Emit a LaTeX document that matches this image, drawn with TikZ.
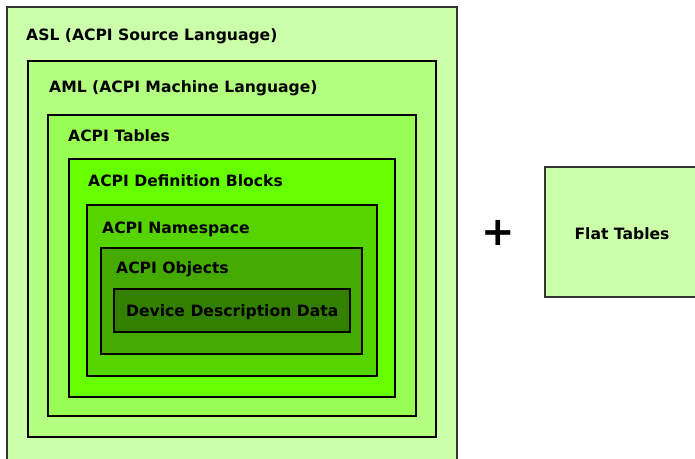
\documentclass[tikz,border=0pt]{standalone}
\usepackage{fontspec}
\setmainfont{DejaVu Sans}
\definecolor{cASL}{HTML}{CCFFAA}
\definecolor{cAML}{HTML}{B3FF80}
\definecolor{cTab}{HTML}{99FF55}
\definecolor{cDef}{HTML}{66FF00}
\definecolor{cNs}{HTML}{55D400}
\definecolor{cObj}{HTML}{44AA00}
\definecolor{cDDD}{HTML}{337F00}
\definecolor{edgegray}{HTML}{333333}
\tikzset{
  lbl/.style={anchor=base west, inner sep=0pt, font=\bfseries\fontsize{15.6}{17}\selectfont},
  layer/.style={draw=black, line width=#1},
}
\begin{document}
\begin{tikzpicture}[x=1pt,y=-1pt]
\useasboundingbox (0,0) rectangle (695,458);
\clip (0,0) rectangle (695,458);
\fill[white] (0,0) rectangle (695,458);
\draw[fill=cASL, draw=edgegray, line width=1.5pt] (7,7) rectangle (457,470);
\draw[fill=cAML, layer=2pt] (28,61) rectangle (436,437);
\draw[fill=cTab, layer=2.5pt] (48,115) rectangle (416,416);
\draw[fill=cDef, layer=2pt] (69,159) rectangle (395,397);
\draw[fill=cNs, layer=1.5pt] (87,205) rectangle (377,376);
\draw[fill=cObj, layer=1.5pt] (101,248) rectangle (362,354);
\draw[fill=cDDD, layer=1.2pt] (114,289) rectangle (350,332);
\node[lbl] (asl) at (26,40) {ASL (ACPI Source Language)};
\node[lbl] (aml) at (49,92) {AML (ACPI Machine Language)};
\node[lbl] (tab) at (68,141) {ACPI Tables};
\node[lbl] (def) at (88,186) {ACPI Definition Blocks};
\node[lbl] (ns) at (102,233) {ACPI Namespace};
\node[lbl] (obj) at (116,273) {ACPI Objects};
\node[lbl] (ddd) at (126,316) {Device Description Data};
\draw[fill=cASL, draw=edgegray, line width=1.2pt] (545,167) rectangle (710,297);
\node[lbl, anchor=base] (flat) at (622,239) {Flat Tables};
\node[inner sep=0pt, font=\bfseries\fontsize{40}{40}\selectfont] (plus) at (498,233) {+};
\end{tikzpicture}
\end{document}
